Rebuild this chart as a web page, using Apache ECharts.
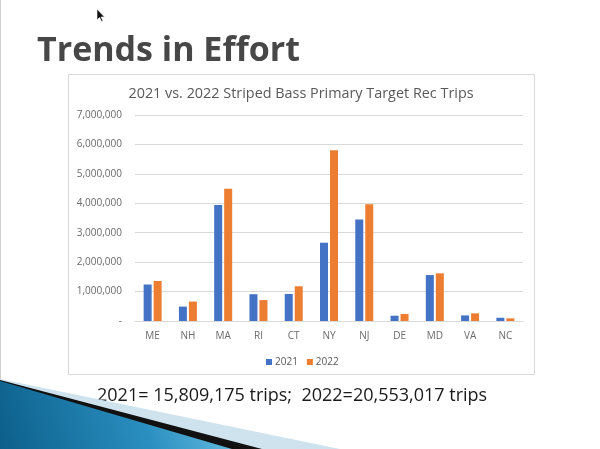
<!DOCTYPE html>
<html>
<head>
<meta charset="utf-8">
<script src="https://cdn.jsdelivr.net/npm/echarts@6/dist/echarts.min.js"></script>
<style>
  html, body { margin: 0; padding: 0; background: #fff; }
  #chart { width: 600px; height: 449px; }
</style>
</head>
<body>
<div id="chart"></div>
<script>
// states along the coast
var states = ['ME', 'NH', 'MA', 'RI', 'CT', 'NY', 'NJ', 'DE', 'MD', 'VA', 'NC'];
// trips
var trips2021 = [1240000, 490000, 3940000, 910000, 920000, 2660000, 3450000, 180000, 1560000, 190000, 110000];
var trips2022 = [1360000, 660000, 4490000, 710000, 1180000, 5800000, 3970000, 240000, 1620000, 260000, 90000];
var seriesNames = ['2021', '2022'];
var yTicks = [0, 1000000, 2000000, 3000000, 4000000, 5000000, 6000000, 7000000];

var slideTitle = 'Trends in Effort';
var chartTitle = '2021 vs. 2022 Striped Bass Primary Target Rec Trips';
var totalsText = '2021= 15,809,175 trips;  2022=20,553,017 trips';

var myChart = echarts.init(document.getElementById('chart'));

var option = {
  backgroundColor: '#fff',
  color: ['#4472C4', '#ED7D31'],
  animation: false,
  textStyle: { fontFamily: 'Open Sans' },
  title: {
    text: chartTitle,
    left: 296,
    textAlign: 'center',
    top: 82,
    textStyle: { fontSize: 14.4, fontWeight: 'normal', color: '#595959', fontFamily: 'Open Sans' }
  },
  legend: {
    data: seriesNames,
    left: 261,
    top: 352,
    icon: 'rect',
    itemWidth: 6,
    itemHeight: 6,
    itemGap: 9,
    textStyle: { fontSize: 10, color: '#595959', padding: [0, 0, 0, -2] }
  },
  grid: { left: 135, right: 77, top: 115, bottom: 128 },
  xAxis: {
    type: 'category',
    data: states,
    axisLine: { lineStyle: { color: '#d9d9d9' } },
    axisTick: { show: false },
    axisLabel: { color: '#6a6a6a', fontSize: 10, margin: 10 }
  },
  yAxis: {
    type: 'value',
    min: yTicks[0],
    max: yTicks[yTicks.length - 1],
    interval: 1000000,
    axisLine: { show: false },
    axisTick: { show: false },
    splitLine: { lineStyle: { color: '#d9d9d9' } },
    axisLabel: {
      color: '#6a6a6a',
      fontSize: 10,
      margin: 13,
      formatter: function (v) {
        return v === 0 ? '-' : v.toLocaleString('en-US');
      }
    }
  },
  series: [
    { name: seriesNames[0], type: 'bar', data: trips2021, barWidth: 8, barGap: '25%' },
    { name: seriesNames[1], type: 'bar', data: trips2022, barWidth: 8, barGap: '25%' }
  ],
  graphic: [
    // slide edge
    { type: 'line', shape: { x1: 0.5, y1: 0, x2: 0.5, y2: 380 }, style: { stroke: '#cfcfcf', lineWidth: 1 }, z: -1 },
    // chart frame
    { type: 'rect', shape: { x: 68.5, y: 74.5, width: 466, height: 300 }, style: { fill: '#fff', stroke: '#d9d9d9', lineWidth: 1 }, z: -1 },
    // slide heading
    { type: 'text', left: 37, top: 34, style: { text: slideTitle, fontSize: 34, fontWeight: 'bold', fontFamily: 'Open Sans', fill: '#474747' } },
    // totals line
    { type: 'text', left: 97, top: 387, style: { text: totalsText, fontSize: 18, fontFamily: 'Open Sans', fill: '#1a1a1a' } },
    // corner decoration
    { type: 'polygon', shape: { points: [[0, 379], [340, 449], [0, 449]] }, style: { fill: '#cfe3ef' } },
    { type: 'polygon', shape: { points: [[0, 380], [262, 449], [0, 449]] }, style: { fill: '#111' } },
    { type: 'polygon', shape: { points: [[0, 381], [232, 449], [0, 449]] },
      style: { fill: new echarts.graphic.LinearGradient(0, 1, 1, 0, [
        { offset: 0, color: '#0c5f8a' }, { offset: 0.6, color: '#2a8fc0' }, { offset: 1, color: '#6cc0e4' }
      ]) } },
    // mouse pointer
    { type: 'polygon', shape: { points: [[97, 9], [97, 20], [99.5, 17.5], [101.5, 21.5], [103, 21], [101, 17], [104.5, 17]] },
      style: { fill: '#111', stroke: '#fff', lineWidth: 0.6 } }
  ]
};

myChart.setOption(option);
</script>
</body>
</html>
